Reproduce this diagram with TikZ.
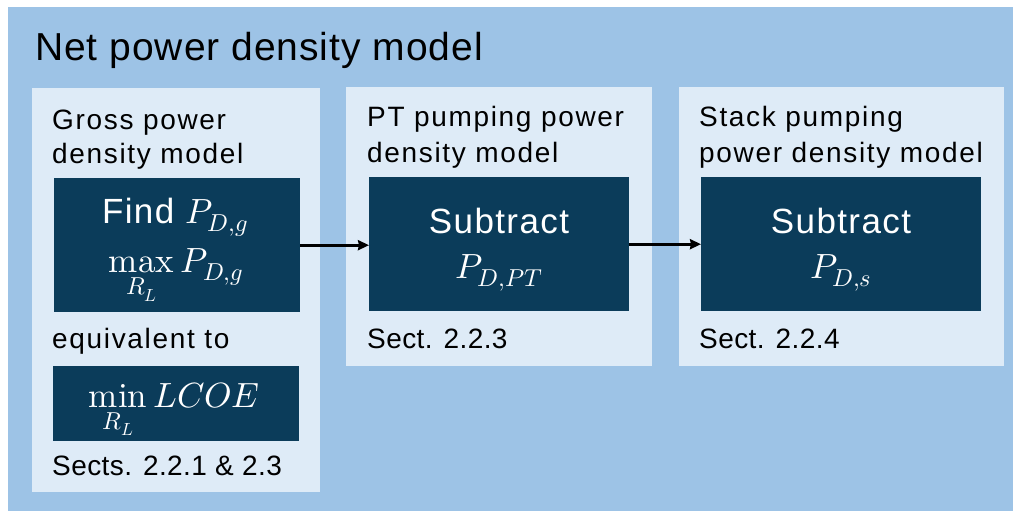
\documentclass[tikz,border=0pt]{standalone}
\usepackage{fontspec}
\usepackage{unicode-math}
\setmainfont{Liberation Sans}
\setmathfont{latinmodern-math.otf}
\usetikzlibrary{arrows.meta}
\definecolor{outerblue}{HTML}{9DC3E6}
\definecolor{panelblue}{HTML}{DEEBF7}
\definecolor{darkbox}{HTML}{0B3C5A}
\newfontfamily\spacedfont[LetterSpace=6]{Liberation Sans}
\newfontfamily\sectfont[LetterSpace=1.5]{Liberation Sans}
\newfontfamily\titlefont[LetterSpace=2.5]{Liberation Sans}
\newfontfamily\boxfont[LetterSpace=4]{Liberation Sans}
\tikzset{
  panel/.style={fill=panelblue, draw=none, anchor=north west, inner sep=0pt},
  dbox/.style={fill=darkbox, draw=none, anchor=north west, inner sep=0pt},
  lbl/.style={anchor=base west, inner sep=0pt, font=\spacedfont\fontsize{28}{32}\selectfont, text=black},
  sect/.style={anchor=base west, inner sep=0pt, font=\sectfont\fontsize{28}{32}\selectfont, text=black},
  wtxt/.style={anchor=base, inner sep=0pt, font=\boxfont\fontsize{35}{42}\selectfont, text=white},
  conn/.style={line width=2.6pt, -{Stealth[length=11pt,width=10pt,inset=1pt]}}
}
\begin{document}
\begin{tikzpicture}[x=1pt,y=-1pt]
\useasboundingbox (0,0) rectangle (1013,511);
\fill[outerblue] (8,7) rectangle (1013,511);
\node[anchor=base west, inner sep=0pt, font=\titlefont\fontsize{39}{46}\selectfont] (title) at (35,61) {Net power density model};
% panels
\node[panel, minimum width=288pt, minimum height=404pt] (p1) at (32,88) {};
\node[panel, minimum width=306pt, minimum height=279pt] (p2) at (346,87) {};
\node[panel, minimum width=325pt, minimum height=279pt] (p3) at (679,87) {};
% dark boxes
\node[dbox, minimum width=246pt, minimum height=134pt] (b1) at (54,178) {};
\node[dbox, minimum width=246pt, minimum height=75pt] (b4) at (53,366) {};
\node[dbox, minimum width=260pt, minimum height=134pt] (b2) at (369,177) {};
\node[dbox, minimum width=280pt, minimum height=134pt] (b3) at (701,177) {};
% labels
\node[lbl] (t1a) at (52,129) {Gross power};
\node[lbl] (t1b) at (52,163) {density model};
\node[lbl] (t1c) at (52,348) {equivalent to};
\node[sect] (t1d) at (52,475) {Sects. 2.2.1 \& 2.3};
\node[lbl] (t2a) at (367,127) {PT pumping power};
\node[lbl] (t2b) at (367,162) {density model};
\node[sect] (t2c) at (367,348) {Sect. 2.2.3};
\node[lbl] (t3a) at (699,127) {Stack pumping};
\node[lbl] (t3b) at (699,162) {power density model};
\node[sect] (t3c) at (699,348) {Sect. 2.2.4};
% box texts
\node[wtxt] (f1) at (175,223) {Find $P_{D,g}$};
\node[wtxt] (f2) at (176,272) {$\mathop{\symup{max}}\limits_{R_L} P_{D,g}$};
\node[wtxt] (f3) at (174,407) {$\mathop{\symup{min}}\limits_{R_L} LCOE$};
\node[wtxt] (s1) at (499,233) {Subtract};
\node[wtxt] (s2) at (499,278) {$P_{D,PT}$};
\node[wtxt] (s3) at (841,233) {Subtract};
\node[wtxt] (s4) at (841,278) {$P_{D,s}$};
% connectors
\draw[conn] (b1.east) -- (b1.east -| b2.west);
\draw[conn] (b2.east) -- (b2.east -| b3.west);
\end{tikzpicture}
\end{document}
